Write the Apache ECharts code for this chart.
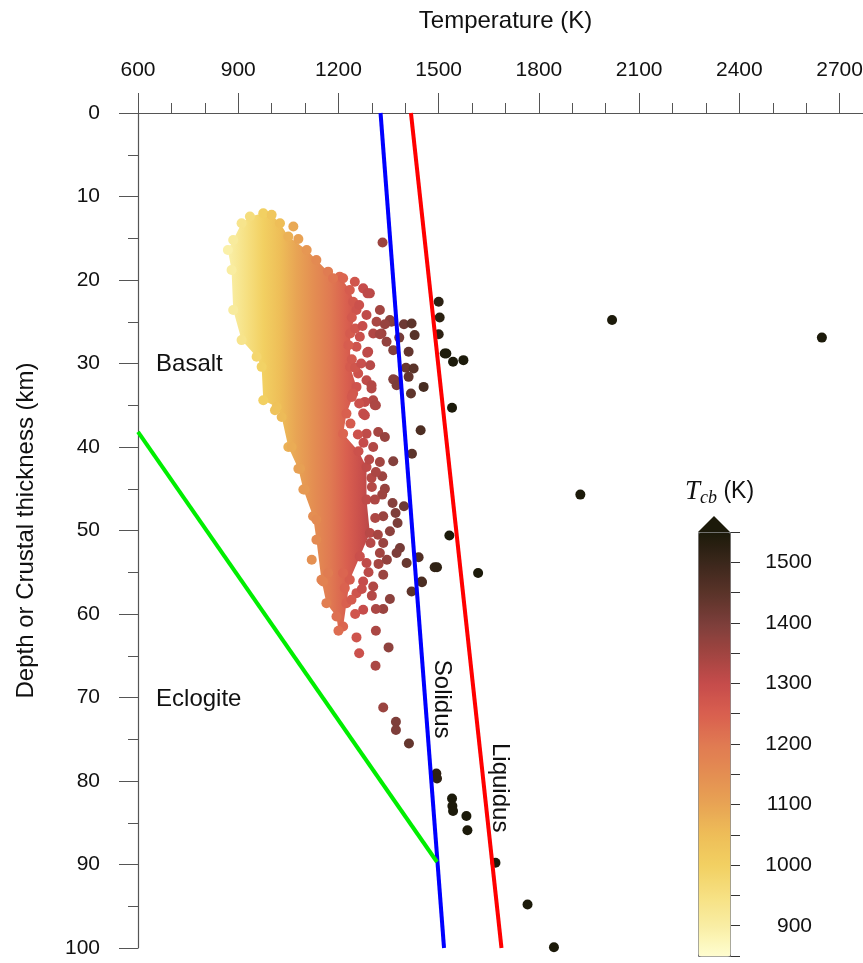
<!DOCTYPE html>
<html>
<head>
<meta charset="utf-8">
<script src="https://cdn.jsdelivr.net/npm/echarts@6/dist/echarts.min.js"></script>
<style>
html, body { margin: 0; padding: 0; background: #fff; }
#main { width: 863px; height: 963px; }
</style>
</head>
<body>
<div id="main"></div>
<script>
// tick values
var tcbTicks = [900, 1000, 1100, 1200, 1300, 1400, 1500]

// colour scale for T_cb (850 -> 1550 K, every 50 K)
var palette = ['#fffdd0', '#f9eea4', '#f6e082', '#f2d062', '#eebe58', '#e8a454', '#e48e52', '#e07a52',
               '#d95f4f', '#c64c4b', '#a14541', '#7c3e3a', '#5a3329', '#3b271b', '#1c1a0a']

// phase boundaries [T (K), depth (km)]
var solidus = [[1326, 0], [1516, 100]]
var liquidus = [[1417, 0], [1688, 100]]
var eclogite = [[600, 38.2], [1495, 89.7]]

// outline of the dense part of the cloud [T, depth]
var coreOutline = [
    [975, 12.0], [1000, 12.2], [1025, 13.2], [1050, 14.8], [1105, 16.4], [1134, 17.6], [1169, 19.0],
    [1204, 19.6], [1234, 21.2], [1254, 23.6], [1235, 26.4], [1235, 30.4], [1254, 32.8], [1224, 36.0],
    [1214, 38.4], [1260, 40.5], [1284, 42.4], [1284, 46.3], [1294, 50.3], [1264, 53.1], [1234, 55.9],
    [1224, 58.7], [1214, 61.5], [1200, 62.0], [1194, 60.3], [1164, 58.7], [1149, 55.9], [1134, 51.1],
    [1124, 48.3], [1095, 45.1], [1080, 42.6], [1050, 40.0], [1030, 36.4], [1015, 35.2], [975, 34.4],
    [970, 30.4], [955, 29.2], [910, 27.2], [885, 23.6], [880, 18.8], [869, 16.4], [885, 15.2],
    [910, 13.2], [935, 12.4]
]

// loose points around the cloud [T, depth]
var fringeDots = [
    [1065, 13.6], [1080, 15.1], [1184, 19.8], [1214, 19.8], [1249, 20.2], [1274, 21], [1294, 21.6],
    [1244, 22.6], [1287, 21.6], [1284, 24.2], [1324, 23.6], [1314, 25], [1304, 26.4], [1329, 26.4],
    [1359, 25], [1344, 27.4], [1289, 28.6], [1264, 26.8], [1254, 28], [1259, 31.2], [1284, 32],
    [1299, 32.6], [1304, 34.4], [1279, 34.6], [1274, 36], [1369, 32], [1244, 33.6], [1354, 24.8],
    [1339, 25.3], [1324, 26.5], [1364, 28.4], [1382, 26.9], [1396, 25.3], [1419, 25.2], [1428, 26.6],
    [1410, 28.6], [1402, 30.5], [1425, 30.6], [1410, 31.6], [1364, 31.9], [1374, 32.6], [1417, 33.6],
    [1286, 28.7], [1299, 33], [1312, 35], [1279, 36.2], [1319, 38.2], [1332, 15.5],
    [1309, 35], [1284, 38.4], [1339, 38.8], [1304, 40], [1324, 41.8], [1364, 41.7], [1420, 40.8],
    [1299, 43.7], [1331, 43.5], [1339, 45], [1331, 45.7], [1309, 46.3], [1362, 46.7], [1396, 47.1],
    [1334, 48.3], [1371, 47.9], [1377, 49.1], [1354, 50.1], [1334, 51.5], [1384, 52.1], [1374, 52.7],
    [1404, 53.9], [1440, 53.2], [1324, 52.7], [1284, 53.9], [1334, 55.3], [1304, 56.7], [1354, 58.2],
    [1274, 56.1], [1254, 57.5], [1334, 59.4], [1312, 59.4], [1274, 59.5], [1312, 62], [1350, 64],
    [1254, 62.8], [1262, 64.7], [1311, 66.2], [1219, 56.9], [1239, 58.3], [1214, 55.1], [1449, 56.1],
    [1419, 57.3], [1450, 56.2],
    [1010, 35.6], [1060, 40], [1085, 42.6], [1099, 45.1], [1120, 53.5], [1134, 48.7], [1154, 56.1], [1169, 55.1],
    [1240, 24.5], [1250, 25.8], [1262, 23], [1240, 29.5], [1250, 30.5], [1268, 30], [1240, 34],
    [1262, 34.8], [1236, 37.2], [1258, 38.5], [1275, 39.5], [1230, 27.8], [1272, 25.5], [1295, 30.2],
    [1300, 44.8], [1310, 48.5], [1296, 51.5], [1318, 50.5], [1290, 55], [1270, 57], [1250, 60],
    [1300, 57.8], [1320, 54], [1345, 53.5], [1292, 41.5], [1312, 43]
]

// scattered points at depth / high temperature [T, depth]
var sparseDots = [
    [1446, 38.0], [1455, 32.8], [1334, 71.2], [1372, 72.9], [1372, 73.9], [1411, 75.5], [1493, 79.1],
    [1495, 79.7], [1540, 82.1], [1541, 83], [1543, 83.6], [1583, 84.2], [1586, 85.9], [1670, 89.8],
    [1766, 94.8], [1845, 99.9], [1500, 22.6], [1503, 24.5], [1500, 26.5], [1518, 28.8], [1523, 28.8],
    [1543, 29.8], [1574, 29.6], [1540, 35.3], [1532, 50.6], [1488, 54.4], [1495, 54.4], [1618, 55.1],
    [2019, 24.8], [2647, 26.9], [1924, 45.7]
]

// colour bar runs 850-1550; points are coloured from their temperature shifted by this much
var tcbShift = 25
var vmMin = 850 - tcbShift
var vmMax = 1550 - tcbShift

var cb = { left: 698, top: 532, width: 32, height: 424 }

var chart = echarts.init(document.getElementById('main'))

var font = 'Liberation Sans, Arial, sans-serif'
var axisGrey = '#555'
var plain = function (v) { return String(v) }

chart.setOption({
    backgroundColor: '#fff',
    textStyle: { fontFamily: font },
    animation: false,
    grid: [
        { left: 138, top: 113, width: 735, height: 835, outerBoundsMode: 'none', containLabel: false },
        { left: cb.left, top: cb.top, width: cb.width, height: cb.height, outerBoundsMode: 'none', containLabel: false }
    ],
    xAxis: [
        {
            gridIndex: 0, type: 'value', position: 'top', min: 600, max: 2800, interval: 300,
            name: 'Temperature (K)', nameLocation: 'middle', nameGap: 80,
            nameTextStyle: { fontSize: 24, color: '#111', fontFamily: font },
            axisLine: { lineStyle: { color: axisGrey, width: 1.2 } },
            axisTick: { length: 20, lineStyle: { color: axisGrey } },
            axisLabel: { fontSize: 21, color: '#111', margin: 32, showMaxLabel: false, fontFamily: font, formatter: plain },
            splitLine: { show: false }
        },
        {
            gridIndex: 0, type: 'value', position: 'top', min: 600, max: 2800, interval: 100,
            axisLine: { show: false },
            axisTick: { length: 10, lineStyle: { color: axisGrey } },
            axisLabel: { show: false },
            splitLine: { show: false }
        },
        { gridIndex: 1, type: 'value', show: false, min: 0, max: 1 }
    ],
    yAxis: [
        {
            gridIndex: 0, type: 'value', position: 'left', inverse: true, min: 0, max: 100, interval: 10,
            name: 'Depth or Crustal thickness (km)', nameLocation: 'middle', nameGap: 100,
            nameTextStyle: { fontSize: 24, color: '#111', fontFamily: font },
            axisLine: { lineStyle: { color: axisGrey, width: 1.2 } },
            axisTick: { length: 19, lineStyle: { color: axisGrey } },
            axisLabel: { fontSize: 21, color: '#111', margin: 38, fontFamily: font, formatter: plain },
            splitLine: { show: false }
        },
        {
            gridIndex: 0, type: 'value', position: 'left', inverse: true, min: 0, max: 100, interval: 5,
            axisLine: { show: false },
            axisTick: { length: 10, lineStyle: { color: axisGrey } },
            axisLabel: { show: false },
            splitLine: { show: false }
        },
        {
            gridIndex: 1, type: 'value', position: 'right', min: 850, max: 1550,
            axisLine: { show: false },
            axisTick: { customValues: tcbTicks, length: 19, lineStyle: { color: '#999', width: 1.5 } },
            axisLabel: { customValues: tcbTicks, fontSize: 21, color: '#111', align: 'right', margin: 82, fontFamily: font, formatter: plain },
            splitLine: { show: false }
        },
        {
            gridIndex: 1, type: 'value', position: 'right', min: 850, max: 1550, interval: 50,
            axisLine: { show: false },
            axisTick: { length: 10, lineStyle: { color: '#333' } },
            axisLabel: { show: false },
            splitLine: { show: false }
        }
    ],
    visualMap: {
        type: 'continuous',
        min: vmMin,
        max: vmMax,
        dimension: 0,
        seriesIndex: [1, 2],
        calculable: false,
        hoverLink: false,
        left: cb.left,
        top: cb.top,
        itemWidth: cb.width,
        itemHeight: cb.height,
        padding: 0,
        borderColor: '#777',
        borderWidth: 1,
        inRange: { color: palette }
    },
    series: [
        {
            name: 'core',
            type: 'custom',
            xAxisIndex: 0, yAxisIndex: 0,
            data: [coreOutline[0]],
            z: 2,
            renderItem: function (params, api) {
                var pts = coreOutline.map(function (p) { return api.coord(p) })
                var x0 = api.coord([vmMin, 0])[0]
                var x1 = api.coord([vmMax, 0])[0]
                var stops = palette.map(function (c, i) {
                    return { offset: i / (palette.length - 1), color: c }
                })
                return {
                    type: 'polygon',
                    shape: { points: pts },
                    style: { fill: new echarts.graphic.LinearGradient(x0, 0, x1, 0, stops, true) }
                }
            }
        },
        {
            name: 'fringe',
            type: 'scatter',
            xAxisIndex: 0, yAxisIndex: 0,
            symbolSize: 10,
            itemStyle: { opacity: 1 },
            z: 3,
            data: coreOutline.concat(fringeDots)
        },
        {
            name: 'sparse',
            type: 'scatter',
            xAxisIndex: 0, yAxisIndex: 0,
            symbolSize: 10,
            itemStyle: { opacity: 1 },
            clip: false,
            z: 3,
            data: sparseDots
        },
        {
            name: 'Solidus', type: 'line', xAxisIndex: 0, yAxisIndex: 0, data: solidus,
            showSymbol: false, z: 4, lineStyle: { color: '#0000ff', width: 4 }
        },
        {
            name: 'Liquidus', type: 'line', xAxisIndex: 0, yAxisIndex: 0, data: liquidus,
            showSymbol: false, z: 4, lineStyle: { color: '#ff0000', width: 4 }
        },
        {
            name: 'Eclogite', type: 'line', xAxisIndex: 0, yAxisIndex: 0, data: eclogite,
            showSymbol: false, z: 4, lineStyle: { color: '#00ee00', width: 4 }
        }
    ]
})

// labels placed in data coordinates
function px(p) { return chart.convertToPixel({ gridIndex: 0 }, p) }
var basaltPos = px([654, 30.1])
var eclogitePos = px([654, 70.2])
var solidusPos = px([1508, 70.2])
var liquidusPos = px([1683, 80.8])

chart.setOption({
    graphic: [
        { type: 'text', x: basaltPos[0], y: basaltPos[1],
          style: { text: 'Basalt', font: '24px ' + font, fill: '#111', verticalAlign: 'middle' } },
        { type: 'text', x: eclogitePos[0], y: eclogitePos[1],
          style: { text: 'Eclogite', font: '24px ' + font, fill: '#111', verticalAlign: 'middle' } },
        { type: 'text', x: solidusPos[0], y: solidusPos[1], rotation: -Math.PI / 2,
          style: { text: 'Solidus', font: '24px ' + font, fill: '#111', align: 'center', verticalAlign: 'middle' } },
        { type: 'text', x: liquidusPos[0], y: liquidusPos[1], rotation: -Math.PI / 2,
          style: { text: 'Liquidus', font: '24px ' + font, fill: '#111', align: 'center', verticalAlign: 'middle' } },
        // arrow on top of the colour bar
        { type: 'polygon', z: 10,
          shape: { points: [[cb.left, cb.top], [cb.left + cb.width / 2, cb.top - 16], [cb.left + cb.width, cb.top]] },
          style: { fill: '#1c1a0a' } },
        // colour bar title
        { type: 'text', x: 685, y: 492,
          style: {
              text: '{t|T}{s|cb}{k| (K)}',
              verticalAlign: 'middle',
              rich: {
                  t: { fontFamily: 'Liberation Serif, DejaVu Serif, serif', fontStyle: 'italic', fontSize: 27, fill: '#111', lineHeight: 30 },
                  s: { fontFamily: 'Liberation Serif, DejaVu Serif, serif', fontStyle: 'italic', fontSize: 18, fill: '#111', verticalAlign: 'bottom', padding: [12, 0, 0, 0] },
                  k: { fontFamily: font, fontSize: 23, fill: '#111' }
              }
          } }
    ]
})
</script>
</body>
</html>
